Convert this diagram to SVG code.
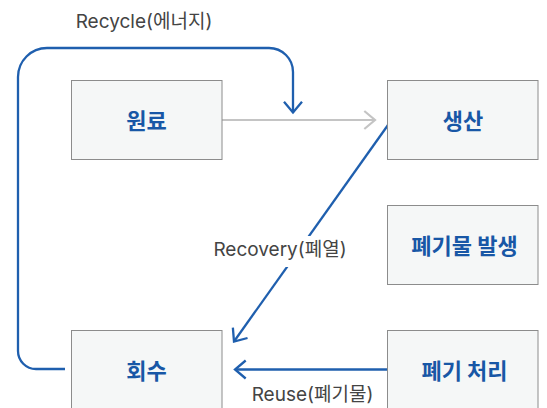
<svg xmlns="http://www.w3.org/2000/svg" width="547" height="408" viewBox="0 0 547 408">
<style>
.box{fill:#f5f7f7;stroke:#8c8c8c;stroke-width:1}
.nt{font-family:Inter,"Noto Sans CJK KR",sans-serif;font-size:22px;font-weight:700;fill:#1857a6;text-anchor:middle;dominant-baseline:central}
.lb{font-family:Inter,"Noto Sans CJK KR",sans-serif;font-size:19px;fill:#444;text-anchor:middle;dominant-baseline:central}
.blue{fill:none;stroke:#1f5fae;stroke-width:2.3}
.gray{fill:none;stroke:#c4c4c4;stroke-width:2.2}
</style>
<defs>
<marker id="ab" markerUnits="userSpaceOnUse" markerWidth="30" markerHeight="30" viewBox="-15 -15 30 30" refX="0" refY="0" orient="auto" overflow="visible">
<path d="M-10.7,-9 L0,0 L-10.7,9" fill="none" stroke="#1f5fae" stroke-width="2.3"/>
</marker>
<marker id="ag" markerUnits="userSpaceOnUse" markerWidth="30" markerHeight="30" viewBox="-15 -15 30 30" refX="0" refY="0" orient="auto" overflow="visible">
<path d="M-10.7,-9 L0,0 L-10.7,9" fill="none" stroke="#c4c4c4" stroke-width="2.2"/>
</marker>
</defs>
<rect width="547" height="408" fill="#fff"/>
<g id="connectors">
<path class="gray" d="M222 120 H375" marker-end="url(#ag)"/>
<path class="blue" d="M65 369 H36 A18 18 0 0 1 18 351 V77 A29 29 0 0 1 47 48 H269 A24 24 0 0 1 293 72 V112.5" marker-end="url(#ab)"/>
<path class="blue" d="M388 125 L234 341.5" marker-end="url(#ab)"/>
<path class="blue" d="M388 369.5 H235" marker-end="url(#ab)"/>
<rect x="208" y="236" width="144" height="31" fill="#fff"/>
<text class="lb" x="144" y="21">Recycle(에너지)</text>
<text class="lb" x="280" y="249">Recovery(폐열)</text>
<text class="lb" x="312.5" y="394">Reuse(폐기물)</text>
</g>
<g id="n-raw"><rect class="box" x="71.5" y="80.5" width="150.5" height="79"/><text class="nt" x="146.5" y="121">원료</text></g>
<g id="n-prod"><rect class="box" x="387.5" y="80.5" width="150.5" height="79"/><text class="nt" x="463" y="121">생산</text></g>
<g id="n-waste"><rect class="box" x="387.5" y="205.5" width="150.5" height="79"/><text class="nt" x="464.5" y="246">폐기물 발생</text></g>
<g id="n-collect"><rect class="box" x="71.5" y="330.5" width="150.5" height="79"/><text class="nt" x="146.5" y="371">회수</text></g>
<g id="n-treat"><rect class="box" x="387.5" y="330.5" width="150.5" height="79"/><text class="nt" x="464.5" y="371">폐기 처리</text></g>
</svg>
